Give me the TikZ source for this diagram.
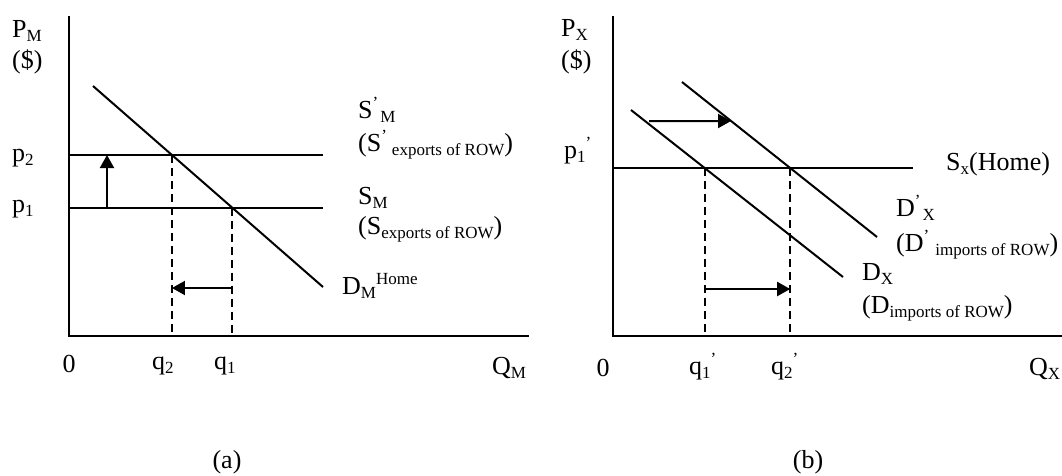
\documentclass[tikz,border=0pt]{standalone}
\usepackage{fontspec}
\setmainfont{Liberation Serif}
\usetikzlibrary{arrows.meta,calc}
\newcommand{\mysub}[1]{\raisebox{-4pt}{\fontsize{17}{18}\selectfont #1}}
\newcommand{\mysup}[1]{\raisebox{10pt}{\fontsize{17}{18}\selectfont #1}}
\begin{document}
\begin{tikzpicture}[x=1pt,y=-1pt,
  axis/.style={line width=2.4pt},
  curve/.style={line width=2pt},
  guide/.style={line width=2pt, dash pattern=on 8pt off 5pt},
  shiftarrow/.style={line width=2pt, -{Triangle[length=13pt,width=14pt]}},
  lbl/.style={inner sep=0pt, anchor=base west, font=\fontsize{26}{30}\selectfont},
  clbl/.style={lbl, anchor=base}]
\useasboundingbox (0,0) rectangle (1062,475);

% ---------- panel (a) ----------
\coordinate (LO) at (69,336);
\coordinate (LT) at (69,16);
\coordinate (LR) at (529,336);
\draw[axis] (LT) -- (LO) -- (LR);
\coordinate (S2a) at (69,155);   \coordinate (S2b) at (323,155);
\coordinate (S1a) at (69,207.5); \coordinate (S1b) at (323,207.5);
\coordinate (Da) at (93,86);     \coordinate (Db) at (323,287);
\draw[curve] (S2a) -- (S2b);
\draw[curve] (S1a) -- (S1b);
\draw[curve] (Da) -- (Db);
\coordinate (E2) at (intersection of Da--Db and S2a--S2b);
\coordinate (E1) at (intersection of Da--Db and S1a--S1b);
\draw[guide] (E2) -- (E2 |- LO);
\draw[guide] (E1) -- (E1 |- LO);
\coordinate (UA) at (107,207.5);
\draw[shiftarrow] (UA) -- (UA |- S2a);
\coordinate (LA) at (232,288);
\draw[shiftarrow] (E1 |- LA) -- (E2 |- LA);

\node[lbl] (PM) at (12,37) {P\mysub{M}};
\node[lbl] (PMd) at (12,68) {(\$)};
\node[lbl] (p2) at (12,161) {p\mysub{2}};
\node[lbl] (p1) at (12,212) {p\mysub{1}};
\node[clbl] (zeroL) at (69,372) {0};
\node[lbl] (q2) at (152,369) {q\mysub{2}};
\node[lbl] (q1) at (214,369) {q\mysub{1}};
\node[lbl] (QM) at (492,374) {Q\mysub{M}};
\node[lbl] (SpM) at (358,118) {S\mysup{’}\hspace{2pt}\mysub{M}};
\node[lbl] (SpMr) at (358,151) {(S\mysup{’}\hspace{5pt}\mysub{exports of ROW})};
\node[lbl] (SM) at (358,204) {S\mysub{M}};
\node[lbl] (SMr) at (358,234) {(S\mysub{exports of ROW})};
\node[lbl] (DM) at (342,294) {D\mysub{M}\mysup{Home}};
\node[clbl] (capa) at (227,468) {(a)};

% ---------- panel (b) ----------
\coordinate (RO) at (613,336);
\coordinate (RT) at (613,16);
\coordinate (RR) at (1062,336);
\draw[axis] (RT) -- (RO) -- (RR);
\coordinate (SXa) at (613,168);  \coordinate (SXb) at (913,168);
\coordinate (DXa) at (631,110);  \coordinate (DXb) at (843,277);
\coordinate (DPa) at (682,82);   \coordinate (DPb) at (877,237);
\draw[curve] (SXa) -- (SXb);
\draw[curve] (DXa) -- (DXb);
\draw[curve] (DPa) -- (DPb);
\coordinate (F1) at (intersection of DXa--DXb and SXa--SXb);
\coordinate (F2) at (intersection of DPa--DPb and SXa--SXb);
\draw[guide] (F1) -- (F1 |- RO);
\draw[guide] (F2) -- (F2 |- RO);
\coordinate (UAs) at (649,121); \coordinate (UAe) at (900,121);
\coordinate (UAt) at (intersection of DPa--DPb and UAs--UAe);
\draw[shiftarrow] (UAs) -- (UAt);
\coordinate (LB) at (700,289);
\draw[shiftarrow] (F1 |- LB) -- (F2 |- LB);

\node[lbl] (PX) at (561,36) {P\mysub{X}};
\node[lbl] (PXd) at (561,68) {(\$)};
\node[lbl] (p1p) at (564,158) {p\mysub{1}\mysup{’}};
\node[lbl] (SXh) at (946,170) {S\mysub{x}(Home)};
\node[lbl] (DpX) at (896,216) {D\mysup{’}\hspace{2pt}\mysub{X}};
\node[lbl] (DpXr) at (896,251) {(D\mysup{’}\hspace{6pt}\mysub{imports of ROW})};
\node[lbl] (DX) at (862,280) {D\mysub{X}};
\node[lbl] (DXr) at (862,313) {(D\mysub{imports of ROW})};
\node[lbl] (QX) at (1029,375) {Q\mysub{X}};
\node[clbl] (zeroR) at (603,376) {0};
\node[lbl] (q1p) at (689,374) {q\mysub{1}\mysup{’}};
\node[lbl] (q2p) at (771,374) {q\mysub{2}\mysup{’}};
\node[clbl] (capb) at (808,468) {(b)};
\end{tikzpicture}
\end{document}
